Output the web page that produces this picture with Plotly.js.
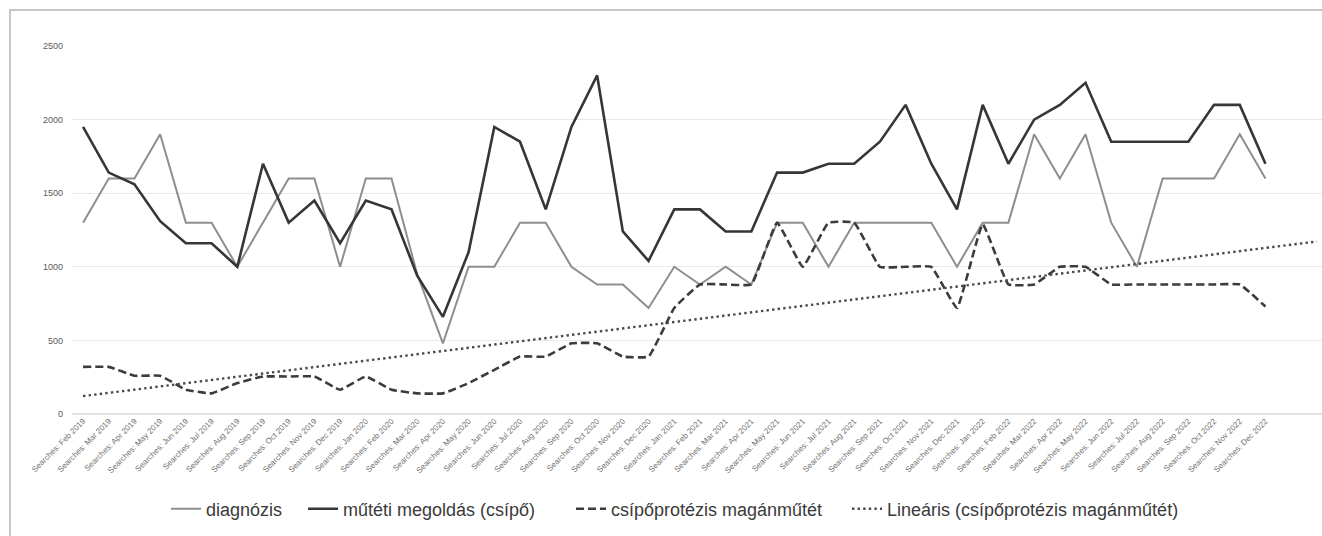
<!DOCTYPE html>
<html>
<head>
<meta charset="utf-8">
<script src="https://cdn.plot.ly/plotly-3.0.1.min.js"></script>
<style>
  html, body { margin: 0; padding: 0; background: #ffffff; width: 1322px; height: 536px; overflow: hidden; }
  #frame { position: absolute; left: 9px; top: 9px; width: 1400px; height: 700px; border: 2px solid #c6c6c6; box-sizing: border-box; }
  #chart { position: absolute; left: 0; top: 0; width: 1322px; height: 536px; }
</style>
</head>
<body>
<div id="frame"></div>
<div id="chart"></div>
<script>
// Categories (months)
var months = ["Feb 2019","Mar 2019","Apr 2019","May 2019","Jun 2019","Jul 2019","Aug 2019","Sep 2019","Oct 2019","Nov 2019","Dec 2019",
  "Jan 2020","Feb 2020","Mar 2020","Apr 2020","May 2020","Jun 2020","Jul 2020","Aug 2020","Sep 2020","Oct 2020","Nov 2020","Dec 2020",
  "Jan 2021","Feb 2021","Mar 2021","Apr 2021","May 2021","Jun 2021","Jul 2021","Aug 2021","Sep 2021","Oct 2021","Nov 2021","Dec 2021",
  "Jan 2022","Feb 2022","Mar 2022","Apr 2022","May 2022","Jun 2022","Jul 2022","Aug 2022","Sep 2022","Oct 2022","Nov 2022","Dec 2022"];
var tickLabels = months.map(function (m) { return "Searches: " + m; });

// Series values
var diagnozis = [1300,1600,1600,1900,1300,1300,1000,1300,1600,1600,1000,
  1600,1600,950,480,1000,1000,1300,1300,1000,880,880,720,
  1000,880,1000,880,1300,1300,1000,1300,1300,1300,1300,1000,
  1300,1300,1900,1600,1900,1300,1000,1600,1600,1600,1900,1600];

var mutetiMegoldas = [1950,1640,1560,1310,1160,1160,1000,1700,1300,1450,1160,
  1450,1390,940,660,1100,1950,1850,1390,1950,2300,1240,1040,
  1390,1390,1240,1240,1640,1640,1700,1700,1850,2100,1700,1390,
  2100,1700,2000,2100,2250,1850,1850,1850,1850,2100,2100,1700];

var csipoprotezis = [320,320,260,260,165,140,210,255,255,255,165,
  255,165,140,140,210,300,390,390,480,480,390,390,
  720,880,880,880,1300,1000,1300,1300,1000,1000,1000,720,
  1290,880,880,1000,1000,880,880,880,880,880,880,730];

var seriesNames = ["diagnózis", "műtéti megoldás (csípő)", "csípőprotézis magánműtét", "Lineáris (csípőprotézis magánműtét)"];
var forwardPeriods = 2;

var idx = months.map(function (_, i) { return i; });

// Linear trend (least squares) of the third series
function linearFit(xs, ys) {
  var n = xs.length, sx = 0, sy = 0, sxx = 0, sxy = 0;
  for (var i = 0; i < n; i++) { sx += xs[i]; sy += ys[i]; sxx += xs[i]*xs[i]; sxy += xs[i]*ys[i]; }
  var b = (n*sxy - sx*sy) / (n*sxx - sx*sx);
  var a = (sy - b*sx) / n;
  return {a: a, b: b};
}
var fit = linearFit(idx, csipoprotezis);
var trendX = [0, idx.length - 1 + forwardPeriods];
var trendY = trendX.map(function (x) { return fit.a + fit.b * x; });

var traces = [
  { x: idx, y: diagnozis, name: seriesNames[0], type: "scatter", mode: "lines", legend: "legend",
    line: { color: "#8e8e8e", width: 2 } },
  { x: idx, y: mutetiMegoldas, name: seriesNames[1], type: "scatter", mode: "lines", legend: "legend2",
    line: { color: "#363636", width: 2.6 } },
  { x: idx, y: csipoprotezis, name: seriesNames[2], type: "scatter", mode: "lines", legend: "legend3",
    line: { color: "#3c3c3c", width: 2.6, dash: "8px,4px", shape: "spline", smoothing: 0.3 } },
  { x: trendX, y: trendY, name: seriesNames[3], type: "scatter", mode: "lines", legend: "legend4",
    line: { color: "#4a4a4a", width: 2.4, dash: "2.4px,3.2px" } }
];

var plotLeft = 72, plotRight = 1322, plotTop = 46, plotBottom = 414;
var plotW = plotRight - plotLeft, plotH = plotBottom - plotTop;
function px2paperX(px) { return (px - plotLeft) / plotW; }
function px2paperY(py) { return (plotBottom - py) / plotH; }

var legendFont = { size: 18, color: "#3a3a3a", family: "Liberation Sans, Arial, sans-serif" };
function legendAt(textStartPx) {
  return { orientation: "h", x: px2paperX(textStartPx - 42), xanchor: "left",
    y: px2paperY(509), yanchor: "middle", font: legendFont,
    bgcolor: "rgba(0,0,0,0)", itemwidth: 30 };
}

var layout = {
  width: 1322, height: 536,
  margin: { l: plotLeft, r: 1322 - plotRight, t: plotTop, b: 536 - plotBottom, pad: 0 },
  paper_bgcolor: "rgba(0,0,0,0)",
  plot_bgcolor: "rgba(0,0,0,0)",
  font: { family: "Liberation Sans, Arial, sans-serif", color: "#555555" },
  showlegend: true,
  legend: legendAt(208),
  legend2: legendAt(345),
  legend3: legendAt(613),
  legend4: legendAt(889),
  xaxis: {
    range: [-0.43, 48.2], tickmode: "array", tickvals: idx, ticktext: tickLabels,
    tickangle: -45, tickfont: { size: 8, color: "#707070" },
    showgrid: false, zeroline: false, showline: false, ticks: "", fixedrange: true
  },
  yaxis: {
    range: [0, 2500], tickvals: [0, 500, 1000, 1500, 2000, 2500],
    ticktext: ["0", "500", "1000", "1500", "2000", "2500"],
    tickfont: { size: 9, color: "#5a5a5a" }, ticks: "", ticklen: 0, ticklabelstandoff: 8,
    showgrid: true, gridcolor: "#e9e9e9", gridwidth: 1.2,
    zeroline: true, zerolinecolor: "#e2e2e2", zerolinewidth: 1.2,
    showline: false, fixedrange: true
  }
};

Plotly.newPlot("chart", traces, layout, { displayModeBar: false, staticPlot: true });
</script>
</body>
</html>
